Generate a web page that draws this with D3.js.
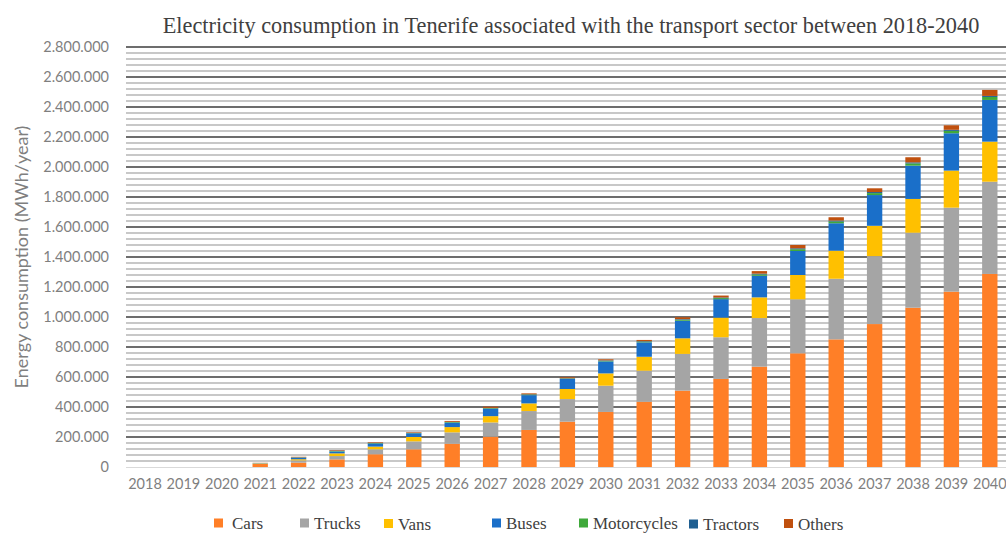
<!DOCTYPE html>
<html>
<head>
<meta charset="utf-8">
<script src="https://cdn.jsdelivr.net/npm/d3@7"></script>
<style>
    body { margin: 0; background: #fff; }
    svg { display: block; }
</style>
</head>
<body>
<svg width="1006" height="534"></svg>
<script>
// chart data (MWh/year)
var years = ['2018', '2019', '2020', '2021', '2022', '2023', '2024', '2025', '2026', '2027', '2028', '2029',
    '2030', '2031', '2032', '2033', '2034', '2035', '2036', '2037', '2038', '2039', '2040'];
var categories = ['Cars', 'Trucks', 'Vans', 'Buses', 'Motorcycles', 'Tractors', 'Others'];
var colors = ['#ff7f27', '#a5a5a5', '#ffc000', '#1a6fc9', '#3fa93b', '#1f5f91', '#c0500e'];

var cars = [0, 0, 0, 20000, 29000, 51000, 85000, 118000, 155000, 202000, 247000, 302000,
    367000, 435000, 509000, 587000, 669000, 758000, 851000, 953000, 1062000, 1169000, 1287000];
var trucks = [0, 0, 0, 3000, 15000, 22000, 33000, 53000, 76000, 95000, 126000, 151000,
    175000, 207000, 245000, 278000, 324000, 360000, 404000, 453000, 500000, 560000, 615000];
var vans = [0, 0, 0, 2000, 8000, 18000, 18000, 29000, 35000, 42000, 51000, 67000,
    82000, 93000, 104000, 131000, 138000, 162000, 187000, 202000, 225000, 247000, 267000];
var buses = [0, 0, 0, 1000, 9000, 12000, 20000, 25000, 29000, 49000, 55000, 67000,
    80000, 96000, 117000, 123000, 144000, 160000, 183000, 205000, 222000, 249000, 278000];
var motorcycles = [0, 0, 0, 500, 2000, 3000, 3000, 2000, 4000, 4000, 4000, 3000,
    4000, 5000, 7000, 7000, 9000, 12000, 12000, 13000, 15000, 16000, 20000];
var tractors = [0, 0, 0, 300, 2000, 3000, 2000, 1000, 2000, 2000, 2000, 2000,
    3000, 3000, 4000, 4000, 5000, 6000, 6000, 7000, 7000, 7000, 7000];
var others = [0, 0, 0, 1000, 3000, 4000, 4000, 4000, 6000, 8000, 6000, 6000,
    7000, 8000, 12000, 13000, 17000, 22000, 22000, 25000, 34000, 30000, 40000];

var yMax = 2800000;
var yTicks = [0, 200000, 400000, 600000, 800000, 1000000, 1200000, 1400000, 1600000, 1800000,
    2000000, 2200000, 2400000, 2600000, 2800000];

var title = 'Electricity consumption in Tenerife associated with the transport sector between 2018-2040';
var yTitle = 'Energy consumption (MWh/year)';

// build table for stack
var series = [cars, trucks, vans, buses, motorcycles, tractors, others];
var table = years.map((y, i) => {
    var row = { year: y };
    categories.forEach((c, k) => row[c] = series[k][i]);
    return row;
});

var svg = d3.select('svg');

var xScale = d3.scaleBand()
    .domain(years)
    .range([125.8, 1009])
    .paddingInner(0.6)
    .paddingOuter(0.3);

var yScale = d3.scaleLinear()
    .domain([0, yMax])
    .range([467, 47]);

var locale = d3.formatLocale({ decimal: ',', thousands: '.', grouping: [3], currency: ['', '€'] });
var fmt = locale.format(',d');

//minor gridlines (light stripes)
var minor = d3.range(40000, yMax, 40000).filter(v => v % 200000 !== 0);
svg.append('g')
    .selectAll('line')
    .data(minor)
    .enter()
    .append('line')
    .attr('x1', 126)
    .attr('x2', 1006)
    .attr('y1', d => yScale(d))
    .attr('y2', d => yScale(d))
    .style('stroke', '#c8c8c8')
    .style('stroke-width', 2);

//major gridlines
svg.append('g')
    .selectAll('line')
    .data(yTicks.slice(1))
    .enter()
    .append('line')
    .attr('x1', 126)
    .attr('x2', 1006)
    .attr('y1', d => yScale(d))
    .attr('y2', d => yScale(d))
    .style('stroke', '#3c3c3c')
    .style('stroke-width', 1.6);

//baseline
svg.append('line')
    .attr('x1', 126)
    .attr('x2', 1006)
    .attr('y1', yScale(0) + 0.5)
    .attr('y2', yScale(0) + 0.5)
    .style('stroke', '#d9d9d9')
    .style('stroke-width', 1);

//stacked bars
var stacked = d3.stack().keys(categories)(table);
svg.append('g')
    .selectAll('g')
    .data(stacked)
    .enter()
    .append('g')
    .style('fill', (d, i) => colors[i])
    .selectAll('rect')
    .data(d => d)
    .enter()
    .append('rect')
    .attr('x', d => xScale(d.data.year))
    .attr('width', xScale.bandwidth())
    .attr('y', d => yScale(d[1]))
    .attr('height', d => yScale(d[0]) - yScale(d[1]));

//y-axis labels
var yAxis = d3.axisLeft(yScale)
    .tickValues(yTicks)
    .tickSize(0)
    .tickPadding(0)
    .tickFormat(fmt);

svg.append('g')
    .attr('class', 'y axis')
    .attr('transform', 'translate(109,0)')
    .call(yAxis)
    .call(g => g.select('.domain').remove())
    .selectAll('text')
    .style('font-family', 'Lato, sans-serif')
    .style('font-size', '14.5px')
    .style('fill', '#7f7f7f');

//x-axis labels
var xAxis = d3.axisBottom(xScale)
    .tickSize(0)
    .tickPadding(0);

svg.append('g')
    .attr('class', 'x axis')
    .attr('transform', 'translate(0,479)')
    .call(xAxis)
    .call(g => g.select('.domain').remove())
    .selectAll('text')
    .style('font-family', 'Lato, sans-serif')
    .style('font-size', '14.5px')
    .style('fill', '#7f7f7f');

//y-axis title
svg.append('text')
    .attr('transform', 'translate(28,257) rotate(-90)')
    .attr('text-anchor', 'middle')
    .style('font-family', 'Lato, sans-serif')
    .style('font-size', '18px')
    .style('fill', '#7f7f7f')
    .text(yTitle);

//title
svg.append('text')
    .attr('x', 571)
    .attr('y', 33)
    .attr('text-anchor', 'middle')
    .style('font-family', '"Liberation Serif", serif')
    .style('font-size', '22.3px')
    .style('fill', '#404040')
    .text(title);

//legend
var legendX = [214, 300, 384, 492, 579, 689, 784];
var legendY = [518.5, 518.5, 519, 518.5, 518.5, 519.5, 519];
var legend = svg.append('g')
    .selectAll('g')
    .data(categories)
    .enter()
    .append('g')
    .attr('transform', (d, i) => 'translate(' + [legendX[i], legendY[i]] + ')');

legend.append('rect')
    .attr('width', 9)
    .attr('height', 9)
    .style('fill', (d, i) => colors[i]);

legend.append('text')
    .attr('x', (d, i) => i === 0 ? 18 : 14)
    .attr('y', 10.5)
    .style('font-family', '"Liberation Serif", serif')
    .style('font-size', '17px')
    .style('fill', '#404040')
    .text(d => d);
</script>
</body>
</html>
